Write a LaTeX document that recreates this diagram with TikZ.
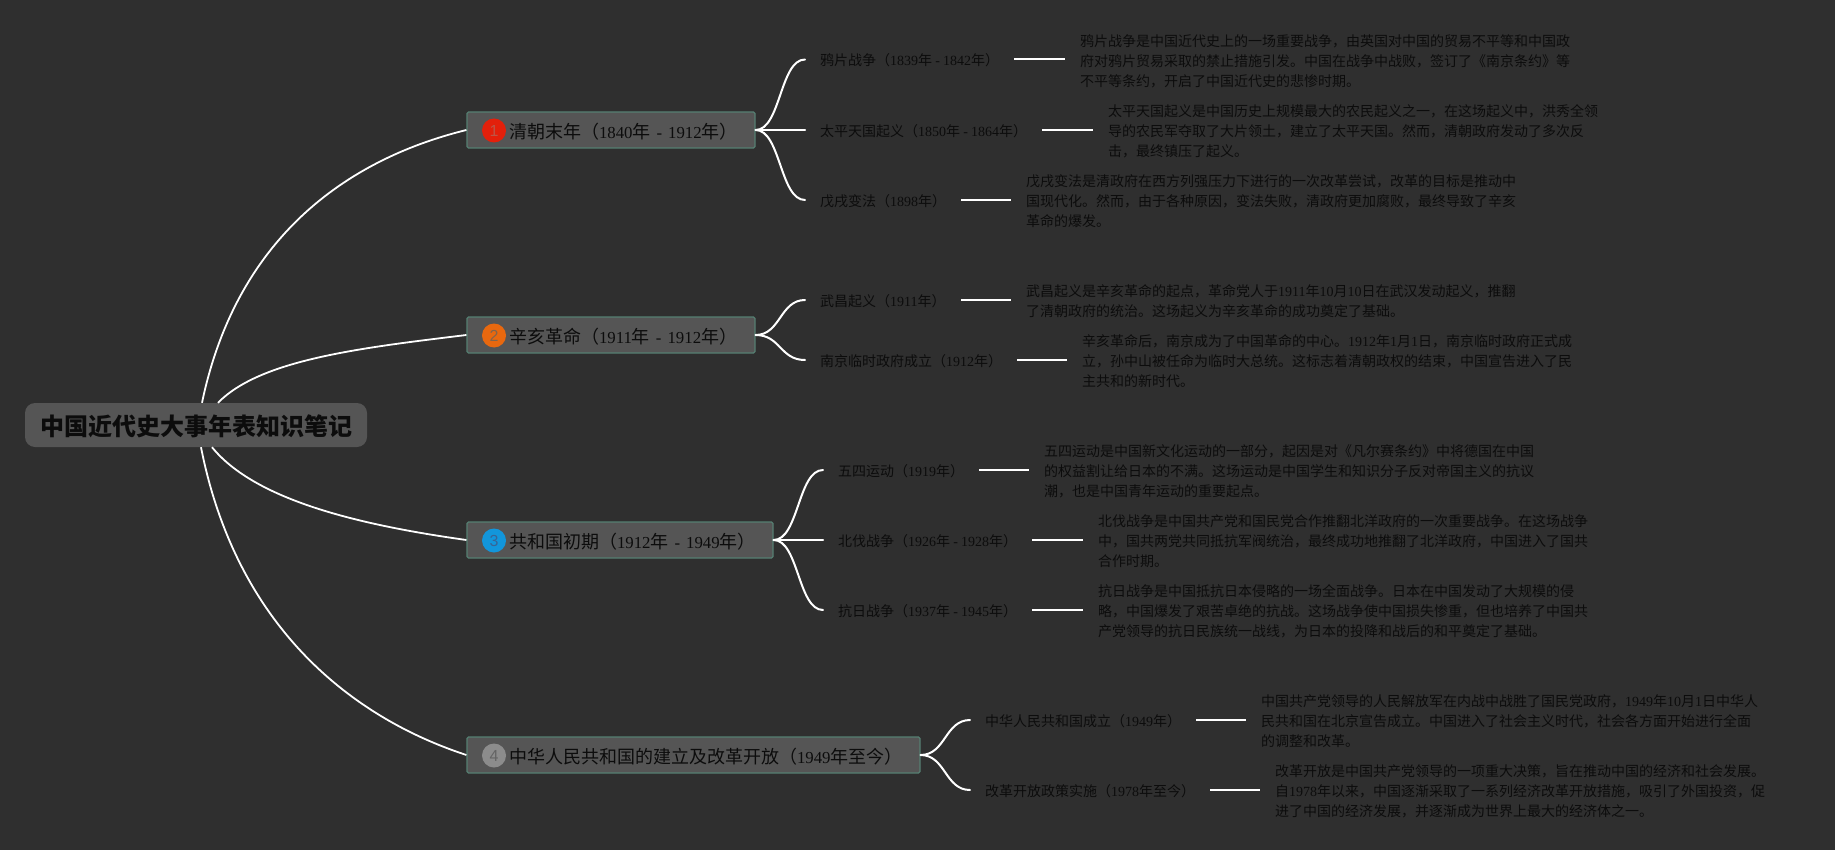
\documentclass[tikz,border=0pt]{standalone}
\usepackage{fontspec}
\setmainfont{Noto Sans CJK SC}
\newfontfamily\latf{Liberation Serif}
\newfontfamily\numf{Liberation Sans}
\newcommand{\nm}[1]{{\latf #1}}
\newcommand{\tm}[1]{{\latf\fontsize{16.8}{22}\selectfont #1}}
\definecolor{bgc}{HTML}{2F2F2F}
\definecolor{boxc}{HTML}{555555}
\definecolor{edgec}{HTML}{557F72}
\definecolor{inkc}{HTML}{0C0C0C}
\tikzset{
  rootbox/.style={fill=boxc,rounded corners=10pt,minimum width=342pt,minimum height=44pt,inner sep=0pt,text=inkc,text height=21pt,text depth=1pt,font=\fontsize{24}{30}\selectfont\bfseries},
  mainbox/.style={fill=boxc,draw=edgec,line width=1.2pt,rounded corners=1.5pt,minimum height=36pt,inner xsep=0pt,inner ysep=0pt,text=inkc,align=left,text height=17pt,text depth=0.6pt,font=\fontsize{18}{22}\selectfont},
  badge/.style={circle,minimum size=24pt,inner sep=0pt,font=\fontsize{16}{18}\selectfont\numf},
  sublabel/.style={anchor=west,inner xsep=15pt,inner ysep=0pt,text=inkc,text height=14pt,text depth=1pt,font=\fontsize{14}{18}\selectfont},
  descnode/.style={anchor=west,inner xsep=15pt,inner ysep=0pt,text=inkc,align=left,font=\fontsize{14}{20}\selectfont},
  link/.style={draw=white,line width=2pt,line cap=round},
  rootlink/.style={draw=white,line width=1.8pt}
}
\begin{document}
\begin{tikzpicture}[x=1pt,y=-1pt]
\useasboundingbox (0,0) rectangle (1835,850);
\fill[bgc] (0,0) rectangle (1835,850);

\node[rootbox] (root) at (196,425) {中国近代史大事年表知识笔记};

\node[mainbox,text width=288pt] (m1) at (611,130) {\hspace*{42pt}清朝末年（\tm{1840}年 \tm{-} \tm{1912}年）};
\node[mainbox,text width=288pt] (m2) at (611,335) {\hspace*{42pt}辛亥革命（\tm{1911}年 \tm{-} \tm{1912}年）};
\node[mainbox,text width=306pt] (m3) at (620,540) {\hspace*{42pt}共和国初期（\tm{1912}年 \tm{-} \tm{1949}年）};
\node[mainbox,text width=453pt] (m4) at (693.5,755) {\hspace*{42pt}中华人民共和国的建立及改革开放（\tm{1949}年至今）};

\node[badge,fill={rgb,255:red,227;green,32;blue,11},text={rgb,255:red,190;green,85;blue,70}] (b1) at (494,130.5) {1};
\node[badge,fill={rgb,255:red,232;green,104;blue,15},text={rgb,255:red,130;green,100;blue,75}] (b2) at (494,335.5) {2};
\node[badge,fill={rgb,255:red,18;green,150;blue,219},text={rgb,255:red,55;green,100;blue,150}] (b3) at (494,540.5) {3};
\node[badge,fill={rgb,255:red,140;green,140;blue,140},text={rgb,255:red,100;green,100;blue,100}] (b4) at (494,755.5) {4};

% level 2
\node[sublabel] (a1) at (805,59.5) {鸦片战争（\nm{1839}年 \nm{-} \nm{1842}年）};
\node[sublabel] (a2) at (805,130) {太平天国起义（\nm{1850}年 \nm{-} \nm{1864}年）};
\node[sublabel] (a3) at (805,200) {戊戌变法（\nm{1898}年）};
\node[sublabel] (c1) at (805,300) {武昌起义（\nm{1911}年）};
\node[sublabel] (c2) at (805,360) {南京临时政府成立（\nm{1912}年）};
\node[sublabel] (e1) at (823,470) {五四运动（\nm{1919}年）};
\node[sublabel] (e2) at (823,540) {北伐战争（\nm{1926}年 \nm{-} \nm{1928}年）};
\node[sublabel] (e3) at (823,610) {抗日战争（\nm{1937}年 \nm{-} \nm{1945}年）};
\node[sublabel] (g1) at (970,720) {中华人民共和国成立（\nm{1949}年）};
\node[sublabel] (g2) at (970,790) {改革开放政策实施（\nm{1978}年至今）};

% descriptions
\node[descnode] (da1) at (1065,61) {鸦片战争是中国近代史上的一场重要战争，由英国对中国的贸易不平等和中国政\\府对鸦片贸易采取的禁止措施引发。中国在战争中战败，签订了《南京条约》等\\不平等条约，开启了中国近代史的悲惨时期。};
\node[descnode] (da2) at (1093,131) {太平天国起义是中国历史上规模最大的农民起义之一，在这场起义中，洪秀全领\\导的农民军夺取了大片领土，建立了太平天国。然而，清朝政府发动了多次反\\击，最终镇压了起义。};
\node[descnode] (da3) at (1011,201) {戊戌变法是清政府在西方列强压力下进行的一次改革尝试，改革的目标是推动中\\国现代化。然而，由于各种原因，变法失败，清政府更加腐败，最终导致了辛亥\\革命的爆发。};
\node[descnode] (dc1) at (1011,301) {武昌起义是辛亥革命的起点，革命党人于\nm{1911}年\nm{10}月\nm{10}日在武汉发动起义，推翻\\了清朝政府的统治。这场起义为辛亥革命的成功奠定了基础。};
\node[descnode] (dc2) at (1067,361) {辛亥革命后，南京成为了中国革命的中心。\nm{1912}年\nm{1}月\nm{1}日，南京临时政府正式成\\立，孙中山被任命为临时大总统。这标志着清朝政权的结束，中国宣告进入了民\\主共和的新时代。};
\node[descnode] (de1) at (1029,471) {五四运动是中国新文化运动的一部分，起因是对《凡尔赛条约》中将德国在中国\\的权益割让给日本的不满。这场运动是中国学生和知识分子反对帝国主义的抗议\\潮，也是中国青年运动的重要起点。};
\node[descnode] (de2) at (1083,541) {北伐战争是中国共产党和国民党合作推翻北洋政府的一次重要战争。在这场战争\\中，国共两党共同抵抗军阀统治，最终成功地推翻了北洋政府，中国进入了国共\\合作时期。};
\node[descnode] (de3) at (1083,611) {抗日战争是中国抵抗日本侵略的一场全面战争。日本在中国发动了大规模的侵\\略，中国爆发了艰苦卓绝的抗战。这场战争使中国损失惨重，但也培养了中国共\\产党领导的抗日民族统一战线，为日本的投降和战后的和平奠定了基础。};
\node[descnode] (dg1) at (1246,721) {中国共产党领导的人民解放军在内战中战胜了国民党政府，\nm{1949}年\nm{10}月\nm{1}日中华人\\民共和国在北京宣告成立。中国进入了社会主义时代，社会各方面开始进行全面\\的调整和改革。};
\node[descnode] (dg2) at (1260,791) {改革开放是中国共产党领导的一项重大决策，旨在推动中国的经济和社会发展。\\自\nm{1978}年以来，中国逐渐采取了一系列经济改革开放措施，吸引了外国投资，促\\进了中国的经济发展，并逐渐成为世界上最大的经济体之一。};

% root connectors
\draw[rootlink] ([xshift=6pt]root.north) .. controls +(34,-163) and +(-122,30) .. (m1.west);
\draw[rootlink] ([xshift=22pt]root.north) .. controls +(42,-43) and +(-107,13) .. (m2.west);
\draw[rootlink] ([xshift=16pt]root.south) .. controls +(43,53) and +(-107,-15) .. (m3.west);
\draw[rootlink] ([xshift=5pt]root.south) .. controls +(34,173) and +(-122,-40) .. (m4.west);

% branches
\foreach \p/\q in {m1/a1,m1/a3,m2/c1,m2/c2,m3/e1,m3/e3,m4/g1,m4/g2}
  \draw[link] (\p.east) .. controls +(25,0) and +(-25,0) .. (\q.west);
\draw[link] (m1.east) -- (a2.west);
\draw[link] (m3.east) -- (e2.west);

% label to description
\foreach \p/\q in {a1/da1,a2/da2,a3/da3,c1/dc1,c2/dc2,e1/de1,e2/de2,e3/de3,g1/dg1,g2/dg2}
  \draw[link,line cap=butt] (\p.east) -- (\q.west |- \p.east);
\end{tikzpicture}
\end{document}
